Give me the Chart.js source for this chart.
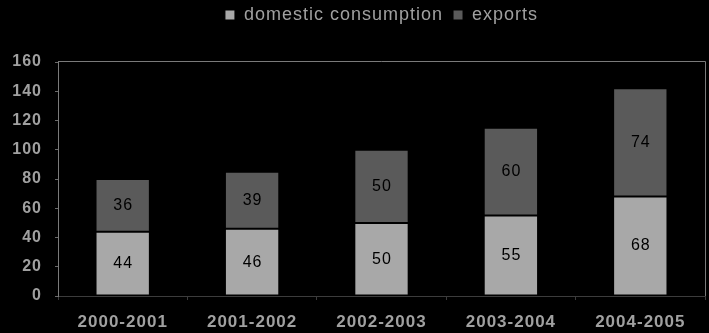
<!DOCTYPE html>
<html><head><meta charset="utf-8">
<script src="https://cdn.jsdelivr.net/npm/chart.js@4/dist/chart.umd.min.js"></script>
<style>html,body{margin:0;padding:0;background:#000;}#wrap{width:709px;height:333px;position:relative;}</style>
</head><body><div id="wrap"><canvas id="c"></canvas></div>
<script>
const categories = ['2000-2001','2001-2002','2002-2003','2003-2004','2004-2005'];
const domesticConsumption = [44,46,50,55,68];
const exportsValues = [36,39,50,60,74];
const seriesNames = ['domestic consumption','exports'];
const yMin = 0, yMax = 160, yStep = 20;

const FONT = "'Liberation Sans', Arial, sans-serif";
const LS = '1px';

const spacingPlugin = {
  id: 'spacing',
  beforeUpdate(c){ c.ctx.letterSpacing = LS; },
  beforeLayout(c){
    c.ctx.letterSpacing = LS;
    const lg = c.legend;
    if (lg && !lg._patched) {
      const f = lg.fit;
      lg.fit = function(){ f.call(this); this.height = 66; };
      lg._patched = true;
    }
  },
  afterLayout(c){ if (c.legend) c.legend.left += 58; },
  beforeDraw(c){ c.ctx.letterSpacing = LS; }
};

const framePlugin = {
  id: 'frame',
  beforeDatasetsDraw(chart){
    const {left, right, top, bottom} = chart.chartArea;
    const ctx = chart.ctx;
    ctx.save();
    ctx.strokeStyle = '#7a7a7a';
    ctx.lineWidth = 1;
    ctx.beginPath();
    ctx.moveTo(left, top - 0.5);
    ctx.lineTo(right + 0.5, top - 0.5);
    ctx.lineTo(right + 0.5, bottom);
    ctx.stroke();
    ctx.restore();
  }
};

const segLabels = {
  id: 'segLabels',
  afterDatasetsDraw(chart){
    const ctx = chart.ctx;
    ctx.save();
    ctx.letterSpacing = LS;
    ctx.font = '16px ' + FONT;
    ctx.fillStyle = '#000';
    ctx.textAlign = 'center';
    ctx.textBaseline = 'middle';
    chart.data.datasets.forEach((ds, i) => {
      const meta = chart.getDatasetMeta(i);
      meta.data.forEach((el, j) => {
        const p = el.getProps(['x','y','base'], true);
        ctx.fillText(String(ds.data[j]), p.x + 0.5, (p.y + p.base) / 2);
      });
    });
    ctx.restore();
  }
};

new Chart(document.getElementById('c'), {
  type: 'bar',
  data: {
    labels: categories,
    datasets: [
      { label: seriesNames[0], data: domesticConsumption, backgroundColor: '#a8a8a8', borderColor: '#000', borderWidth: 1, borderSkipped: false },
      { label: seriesNames[1], data: exportsValues, backgroundColor: '#5a5a5a', borderColor: '#000', borderWidth: 1, borderSkipped: false }
    ]
  },
  options: {
    responsive: true,
    maintainAspectRatio: false,
    animation: false,
    devicePixelRatio: 1,
    layout: { padding: { top: -4, right: 4, left: 0, bottom: 0 } },
    datasets: { bar: { categoryPercentage: 1, barPercentage: 0.42 } },
    plugins: {
      legend: {
        position: 'top',
        labels: {
          color: '#a0a0a0',
          font: { family: FONT, size: 18 },
          boxWidth: 10, boxHeight: 10, padding: 10
        }
      },
      tooltip: { enabled: false }
    },
    scales: {
      x: {
        stacked: true,
        grid: { display: true, drawOnChartArea: false, drawTicks: true, tickLength: 4, color: '#3c3c3c', offset: true },
        border: { display: true, color: '#3c3c3c', width: 1 },
        ticks: { color: '#a0a0a0', font: { family: FONT, size: 17, weight: 'bold' }, padding: 12, maxRotation: 0 },
        afterFit(s){ s.height = 37; }
      },
      y: {
        stacked: true,
        min: yMin, max: yMax,
        grid: { display: true, drawOnChartArea: false, drawTicks: true, tickLength: 3, color: '#6a6a6a' },
        border: { display: true, color: '#7a7a7a', width: 1 },
        ticks: { stepSize: yStep, color: '#a0a0a0', font: { family: FONT, size: 16, weight: 'bold' }, padding: 13 },
        afterFit(s){ s.width = 58; }
      }
    }
  },
  plugins: [spacingPlugin, framePlugin, segLabels]
});
</script>
</body></html>
